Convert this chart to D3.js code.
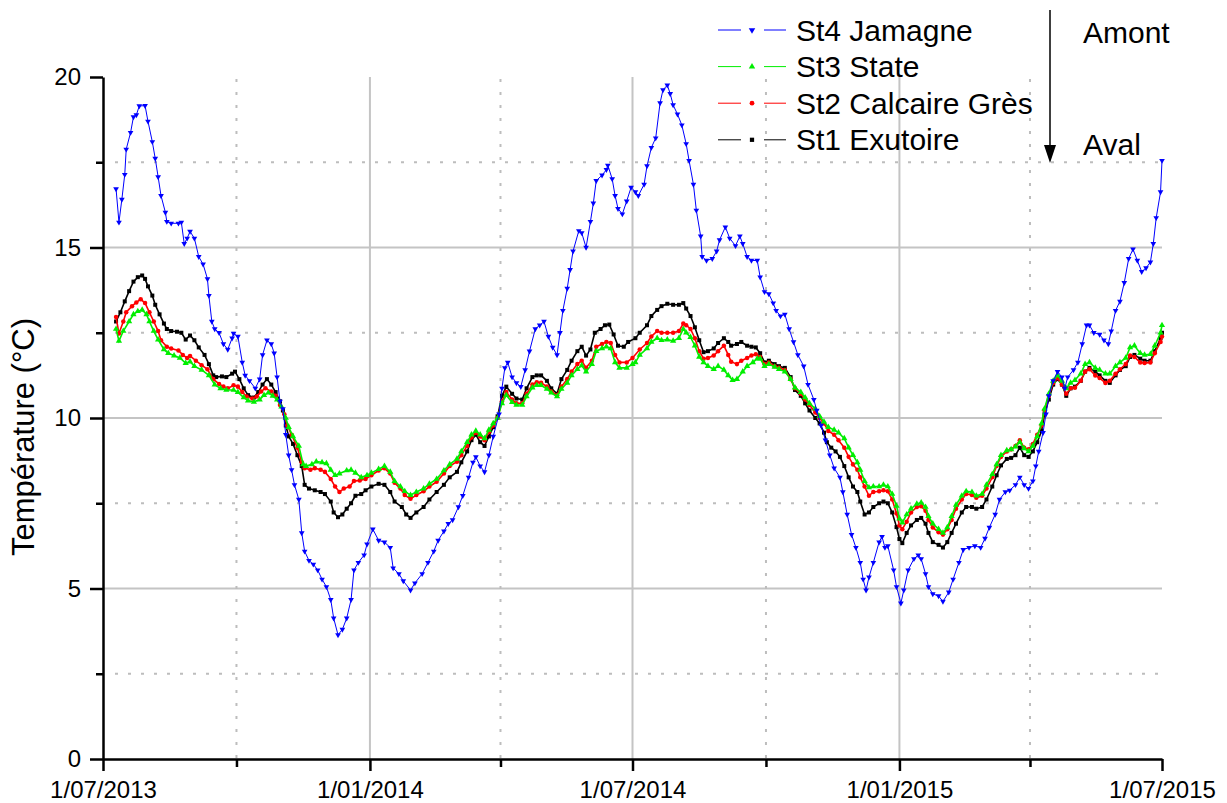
<!DOCTYPE html>
<html>
<head>
<meta charset="utf-8">
<script src="https://cdnjs.cloudflare.com/ajax/libs/d3/7.8.5/d3.min.js"></script>
<style>
body { margin: 0; background: #fff; }
svg { font-family: "Liberation Sans", Arial, sans-serif; }
</style>
</head>
<body>
<svg></svg>
<script>
// dates / ticks
let startDate = new Date(2013, 6, 1);
let majorDates = [new Date(2013,6,1), new Date(2014,0,1), new Date(2014,6,1), new Date(2015,0,1), new Date(2015,6,1)];
let minorDates = [new Date(2013,9,1), new Date(2014,3,1), new Date(2014,9,1), new Date(2015,3,1)];
let majorTemps = [0, 5, 10, 15, 20];
let minorTemps = [2.5, 7.5, 12.5, 17.5];
let stationNames = ["St4 Jamagne", "St3 State", "St2 Calcaire Grès", "St1 Exutoire"];

// [days since 1/07/2013, temperature °C]
let st4 = [[9,16.72],[11,15.74],[13,16.41],[15,17.14],[16,17.88],[19,18.37],[21,18.83],[23,18.89],[25,19.15],[29,19.16],[31,18.70],[34,18.10],[36,17.61],[38,17.07],[40,16.52],[43,16.03],[44,15.76],[47,15.71],[52,15.71],[54,15.74],[56,15.11],[58,15.27],[60,15.47],[63,15.27],[66,14.73],[69,14.51],[72,14.08],[73,13.59],[75,12.83],[77,12.61],[80,12.50],[83,12.17],[86,12.01],[89,12.34],[90,12.48],[93,12.39],[96,11.63],[98,11.25],[101,11.09],[105,10.87],[108,11.14],[110,11.85],[113,12.28],[116,12.17],[118,11.90],[120,11.20],[122,10.49],[124,10.27],[126,9.51],[128,8.91],[130,8.48],[132,8.04],[135,7.61],[137,6.63],[139,6.09],[142,5.82],[145,5.71],[148,5.54],[151,5.27],[154,5.05],[157,4.67],[159,4.13],[162,3.64],[165,3.80],[168,4.13],[171,4.67],[173,5.54],[176,5.76],[180,5.98],[182,6.30],[186,6.74],[190,6.41],[194,6.36],[198,6.20],[200,5.60],[204,5.43],[207,5.22],[212,4.95],[215,5.16],[220,5.43],[224,5.76],[228,6.09],[231,6.41],[235,6.68],[238,6.90],[241,7.01],[245,7.39],[248,7.72],[252,8.26],[255,8.70],[257,8.86],[260,8.59],[263,8.42],[266,8.91],[269,9.46],[273,10.11],[275,10.87],[277,11.47],[279,11.63],[282,11.20],[285,11.03],[288,10.92],[291,11.41],[294,11.96],[298,12.61],[301,12.72],[304,12.83],[307,12.39],[310,12.07],[313,11.85],[315,12.50],[317,13.15],[320,13.80],[322,14.35],[324,14.89],[328,15.49],[330,15.43],[333,15.00],[336,15.76],[338,16.30],[340,16.96],[344,17.12],[347,17.28],[348,17.41],[351,17.01],[353,16.52],[355,16.14],[358,15.98],[361,16.36],[364,16.76],[367,16.63],[369,16.52],[373,16.85],[375,17.39],[378,17.93],[381,18.21],[384,19.24],[386,19.62],[389,19.76],[391,19.51],[393,19.18],[396,18.91],[399,18.59],[402,18.04],[404,17.55],[407,16.85],[409,16.09],[412,15.33],[413,14.73],[416,14.62],[420,14.67],[423,14.89],[425,15.22],[429,15.60],[432,15.27],[436,15.05],[439,15.33],[441,15.11],[444,14.73],[447,14.62],[451,14.62],[453,14.13],[456,13.70],[459,13.64],[462,13.37],[464,13.15],[467,12.99],[470,13.04],[473,12.61],[476,12.23],[479,11.85],[483,11.52],[486,10.98],[490,10.54],[492,10.22],[495,9.78],[498,9.35],[501,8.91],[504,8.53],[508,8.26],[510,7.83],[513,7.17],[516,6.58],[519,6.20],[522,5.76],[524,5.27],[526,4.95],[528,5.33],[531,5.76],[535,6.36],[537,6.52],[539,6.20],[541,6.25],[545,5.54],[547,5.05],[550,4.57],[552,4.95],[555,5.54],[559,5.87],[562,5.98],[564,5.87],[567,5.43],[569,5.05],[572,4.84],[576,4.78],[579,4.62],[583,4.89],[586,5.27],[590,5.76],[593,6.14],[597,6.20],[601,6.25],[605,6.20],[608,6.47],[611,6.79],[615,7.17],[618,7.61],[622,7.83],[625,7.88],[629,8.04],[632,8.26],[635,8.04],[638,7.93],[641,8.15],[643,8.59],[645,9.02],[648,9.57],[650,10.11],[652,10.65],[655,11.09],[658,11.36],[661,11.20],[663,10.87],[665,11.20],[669,11.41],[672,11.63],[675,12.17],[678,12.72],[680,12.72],[683,12.50],[687,12.45],[690,12.28],[693,12.17],[695,12.55],[698,13.15],[701,13.42],[704,13.97],[707,14.67],[710,14.95],[713,14.62],[716,14.29],[719,14.40],[722,14.57],[724,15.11],[726,15.87],[729,16.63],[730,17.55]];

let st3 = [[9,12.61],[11,12.26],[14,12.55],[18,12.83],[21,13.04],[24,13.13],[27,13.17],[30,13.04],[32,12.83],[35,12.55],[38,12.30],[42,12.01],[45,11.90],[49,11.83],[53,11.76],[57,11.61],[60,11.65],[63,11.52],[68,11.41],[73,11.25],[77,10.98],[81,10.87],[85,10.82],[90,10.82],[93,10.76],[97,10.60],[100,10.51],[104,10.47],[108,10.54],[111,10.67],[114,10.74],[117,10.65],[120,10.54],[123,10.33],[126,10.00],[128,9.73],[131,9.46],[135,9.18],[138,8.64],[140,8.59],[144,8.64],[147,8.72],[151,8.70],[154,8.67],[157,8.48],[160,8.32],[163,8.37],[168,8.46],[171,8.48],[174,8.39],[178,8.26],[182,8.32],[185,8.39],[190,8.50],[194,8.59],[198,8.42],[201,8.15],[205,7.99],[208,7.85],[212,7.74],[216,7.83],[221,7.93],[225,8.07],[230,8.21],[235,8.46],[239,8.64],[244,8.80],[247,9.02],[251,9.29],[254,9.51],[257,9.62],[260,9.51],[263,9.40],[266,9.65],[269,9.84],[272,10.00],[275,10.43],[278,10.67],[282,10.46],[285,10.38],[289,10.38],[292,10.63],[296,10.89],[299,10.96],[302,10.96],[306,10.85],[309,10.74],[313,10.63],[316,10.85],[320,11.03],[323,11.25],[327,11.43],[330,11.54],[333,11.36],[337,11.58],[340,11.96],[344,12.04],[347,12.09],[350,12.04],[353,11.63],[356,11.47],[361,11.47],[365,11.58],[367,11.63],[370,11.85],[375,12.04],[378,12.23],[382,12.34],[385,12.28],[389,12.30],[393,12.26],[397,12.34],[400,12.61],[402,12.50],[405,12.37],[408,12.12],[411,11.79],[414,11.63],[417,11.52],[421,11.43],[424,11.52],[428,11.41],[431,11.25],[434,11.11],[437,11.14],[441,11.36],[444,11.52],[448,11.63],[451,11.74],[453,11.74],[456,11.52],[459,11.58],[463,11.50],[466,11.43],[470,11.36],[474,11.14],[477,10.89],[481,10.76],[484,10.60],[487,10.43],[491,10.27],[494,10.05],[497,9.89],[500,9.73],[504,9.65],[507,9.57],[511,9.40],[514,9.13],[517,8.91],[520,8.70],[522,8.48],[525,8.15],[528,7.96],[531,7.99],[535,7.99],[538,8.04],[541,7.99],[544,7.77],[547,7.42],[549,7.05],[551,6.93],[554,7.17],[557,7.34],[561,7.48],[564,7.52],[567,7.39],[569,7.12],[572,6.90],[576,6.74],[579,6.63],[582,6.79],[585,7.12],[588,7.45],[592,7.72],[595,7.85],[599,7.83],[602,7.72],[606,7.77],[609,8.04],[613,8.35],[616,8.64],[619,8.91],[623,9.05],[626,9.08],[629,9.16],[632,9.29],[635,9.11],[638,9.02],[641,9.18],[644,9.46],[647,9.84],[649,10.27],[652,10.71],[655,11.09],[658,11.25],[661,11.09],[664,10.87],[667,11.03],[670,11.11],[674,11.30],[677,11.58],[680,11.63],[684,11.47],[687,11.41],[691,11.30],[694,11.30],[698,11.52],[701,11.63],[705,11.76],[708,12.07],[711,12.12],[715,11.90],[718,11.85],[722,11.87],[725,12.12],[729,12.50],[730,12.72]];

let st2 = [[9,12.96],[11,12.48],[14,12.83],[16,13.10],[20,13.28],[23,13.39],[26,13.48],[29,13.37],[32,13.10],[35,12.83],[38,12.55],[40,12.28],[44,12.09],[47,12.04],[52,11.98],[55,11.85],[58,11.76],[60,11.82],[64,11.68],[68,11.55],[72,11.43],[76,11.14],[80,11.00],[83,10.92],[86,10.87],[90,10.96],[93,10.92],[96,10.76],[99,10.63],[103,10.57],[106,10.63],[109,10.78],[112,10.87],[116,10.78],[119,10.65],[122,10.38],[125,10.11],[127,9.78],[130,9.51],[134,9.13],[137,8.70],[139,8.53],[143,8.48],[146,8.53],[150,8.48],[153,8.42],[157,8.21],[160,7.99],[163,7.83],[166,7.93],[170,7.99],[173,8.15],[177,8.17],[181,8.21],[185,8.32],[190,8.46],[194,8.53],[198,8.37],[201,8.10],[205,7.93],[208,7.74],[212,7.63],[216,7.74],[221,7.85],[225,7.99],[230,8.13],[235,8.37],[239,8.59],[244,8.72],[247,8.91],[251,9.18],[254,9.43],[257,9.57],[260,9.46],[263,9.35],[266,9.59],[269,9.78],[272,10.00],[275,10.49],[278,10.76],[282,10.54],[285,10.43],[289,10.43],[292,10.71],[296,10.98],[299,11.05],[302,11.03],[306,10.92],[309,10.78],[313,10.67],[316,10.92],[320,11.14],[323,11.36],[327,11.58],[330,11.68],[333,11.47],[337,11.68],[340,12.09],[344,12.17],[347,12.23],[350,12.20],[353,11.85],[356,11.63],[361,11.63],[365,11.76],[370,12.01],[375,12.20],[378,12.39],[382,12.55],[385,12.50],[389,12.50],[393,12.50],[397,12.55],[400,12.77],[402,12.72],[405,12.61],[408,12.34],[411,11.96],[414,11.74],[417,11.76],[421,11.83],[424,11.96],[428,12.12],[431,11.85],[433,11.65],[437,11.58],[440,11.68],[444,11.76],[447,11.83],[450,11.87],[453,11.79],[456,11.58],[459,11.63],[463,11.52],[466,11.47],[470,11.41],[474,11.14],[477,10.87],[481,10.71],[484,10.54],[487,10.38],[491,10.16],[494,10.00],[497,9.84],[500,9.62],[504,9.51],[507,9.35],[511,9.13],[514,8.86],[517,8.64],[520,8.48],[522,8.26],[525,7.99],[528,7.72],[531,7.83],[535,7.85],[538,7.88],[541,7.85],[544,7.61],[547,7.20],[549,6.85],[551,6.74],[554,6.96],[557,7.23],[561,7.39],[564,7.41],[567,7.28],[569,7.01],[572,6.79],[576,6.65],[579,6.58],[582,6.74],[585,7.01],[588,7.34],[592,7.61],[595,7.77],[599,7.74],[602,7.66],[606,7.72],[609,7.93],[613,8.26],[616,8.59],[619,8.86],[623,9.02],[626,9.08],[629,9.18],[632,9.35],[635,9.13],[638,9.08],[641,9.24],[644,9.51],[647,9.78],[649,10.22],[652,10.65],[655,11.03],[658,11.17],[661,10.98],[664,10.71],[667,10.87],[670,10.89],[674,11.09],[677,11.36],[680,11.43],[684,11.25],[687,11.17],[691,11.03],[694,11.09],[698,11.30],[701,11.43],[705,11.58],[708,11.83],[711,11.79],[715,11.63],[718,11.61],[722,11.63],[725,11.90],[729,12.23],[730,12.39]];

let st1 = [[9,12.83],[12,13.10],[15,13.42],[18,13.72],[21,14.00],[24,14.13],[27,14.18],[29,14.08],[31,13.86],[34,13.59],[36,13.32],[39,13.04],[42,12.77],[44,12.61],[47,12.55],[51,12.53],[54,12.50],[57,12.30],[60,12.42],[63,12.28],[66,12.07],[70,11.85],[73,11.58],[76,11.25],[78,11.20],[82,11.22],[85,11.20],[89,11.30],[91,11.36],[94,11.14],[97,10.87],[100,10.67],[104,10.60],[107,10.76],[110,10.98],[113,11.14],[116,10.98],[119,10.76],[122,10.49],[124,10.22],[126,9.78],[128,9.46],[131,9.24],[134,8.91],[137,8.59],[139,8.04],[142,7.93],[146,7.88],[150,7.83],[153,7.77],[157,7.55],[159,7.23],[162,7.09],[165,7.17],[168,7.34],[171,7.50],[174,7.72],[178,7.77],[181,7.88],[185,7.99],[190,8.07],[194,8.04],[198,7.83],[201,7.55],[206,7.39],[209,7.17],[212,7.07],[216,7.23],[221,7.39],[225,7.61],[230,7.83],[235,8.04],[239,8.26],[244,8.42],[247,8.70],[251,9.02],[254,9.35],[257,9.51],[260,9.29],[263,9.18],[266,9.46],[269,9.73],[272,10.05],[275,10.65],[278,10.92],[282,10.71],[285,10.57],[289,10.54],[292,10.87],[296,11.20],[299,11.25],[302,11.25],[306,11.09],[309,10.87],[313,10.71],[316,11.14],[320,11.41],[323,11.68],[327,11.96],[330,12.09],[333,11.83],[336,12.01],[339,12.50],[343,12.61],[346,12.72],[349,12.74],[352,12.45],[355,12.12],[359,12.09],[362,12.23],[367,12.34],[370,12.50],[375,12.72],[378,12.99],[382,13.17],[385,13.28],[389,13.35],[393,13.32],[397,13.32],[400,13.37],[402,13.21],[405,12.99],[408,12.66],[411,12.28],[414,11.93],[417,11.96],[421,12.04],[424,12.20],[428,12.34],[431,12.23],[433,12.12],[437,12.17],[440,12.23],[444,12.12],[447,12.09],[450,12.07],[453,11.90],[456,11.63],[459,11.68],[463,11.58],[466,11.52],[470,11.47],[474,11.20],[477,10.82],[481,10.65],[484,10.43],[487,10.22],[491,10.00],[494,9.84],[497,9.57],[499,9.29],[502,9.13],[505,9.02],[508,8.86],[511,8.59],[514,8.26],[517,7.99],[520,7.83],[522,7.55],[525,7.17],[528,7.23],[531,7.39],[535,7.50],[538,7.55],[541,7.50],[544,7.23],[547,6.80],[549,6.45],[551,6.33],[554,6.63],[557,6.85],[561,7.01],[564,7.07],[567,6.90],[569,6.63],[572,6.36],[576,6.28],[579,6.20],[582,6.36],[585,6.63],[588,6.90],[592,7.23],[595,7.39],[599,7.39],[602,7.34],[606,7.39],[609,7.61],[613,7.99],[616,8.32],[619,8.61],[623,8.80],[626,8.83],[629,8.91],[632,9.13],[635,8.91],[638,8.86],[641,9.02],[644,9.29],[647,9.62],[649,10.11],[652,10.54],[655,10.98],[658,11.14],[661,10.98],[664,10.65],[667,10.87],[670,10.92],[674,11.09],[677,11.36],[680,11.47],[684,11.36],[687,11.25],[691,11.09],[694,11.03],[698,11.25],[701,11.41],[705,11.52],[708,11.79],[711,11.85],[715,11.74],[718,11.68],[722,11.68],[725,11.96],[729,12.34],[730,12.50]];

var svgWidth = 1227, svgHeight = 803;
var plotLeft = 103, plotRight = 1162, plotTop = 77, plotBottom = 759;

var svg = d3.select('svg')
            .attr("width", svgWidth)
            .attr("height", svgHeight);

var x = d3.scaleTime()
          .domain([majorDates[0], majorDates[majorDates.length - 1]])
          .range([plotLeft, plotRight]);
var y = d3.scaleLinear()
          .domain([0, 20])
          .range([plotBottom, plotTop]);

let toDate = d => new Date(startDate.getTime() + d * 864e5);

// grid
var grid = svg.append("g");
grid.selectAll(".hmajor")
    .data(majorTemps.filter(t => t > 0 && t < 20))
    .enter().append("line")
    .attr("x1", plotLeft).attr("x2", plotRight)
    .attr("y1", d => y(d)).attr("y2", d => y(d))
    .attr("stroke", "#c4c4c4").attr("stroke-width", 2);
grid.selectAll(".vmajor")
    .data(majorDates.slice(1, -1))
    .enter().append("line")
    .attr("x1", d => x(d)).attr("x2", d => x(d))
    .attr("y1", plotTop).attr("y2", plotBottom)
    .attr("stroke", "#c4c4c4").attr("stroke-width", 2);
grid.selectAll(".hminor")
    .data(minorTemps)
    .enter().append("line")
    .attr("x1", plotLeft + 12).attr("x2", plotRight)
    .attr("y1", d => y(d)).attr("y2", d => y(d))
    .attr("stroke", "#bdbdbd").attr("stroke-width", 2)
    .attr("stroke-dasharray", "3,10");
grid.selectAll(".vminor")
    .data(minorDates)
    .enter().append("line")
    .attr("x1", d => x(d)).attr("x2", d => x(d))
    .attr("y1", plotTop + 2).attr("y2", plotBottom)
    .attr("stroke", "#bdbdbd").attr("stroke-width", 2)
    .attr("stroke-dasharray", "3,10");

// series (bottom to top)
let series = [
  {name: stationNames[3], data: st1, color: "#000000", shape: d3.symbolSquare, size: 16, rot: 0, lw: 1.6},
  {name: stationNames[2], data: st2, color: "#ff0000", shape: d3.symbolCircle, size: 16, rot: 0, lw: 1.6},
  {name: stationNames[1], data: st3, color: "#00ee00", shape: d3.symbolTriangle, size: 17, rot: 0, lw: 1.6},
  {name: stationNames[0], data: st4, color: "#0000ff", shape: d3.symbolTriangle, size: 14, rot: 180, lw: 1}
];

var line = d3.line()
             .x(d => x(toDate(d[0])))
             .y(d => y(d[1]));

series.forEach(s => {
  let g = svg.append("g");
  g.append("path")
   .attr("d", line(s.data))
   .attr("fill", "none")
   .attr("stroke", s.color)
   .attr("stroke-width", s.lw);
  g.selectAll("path.pt")
   .data(s.data)
   .enter()
   .append("path")
   .attr("class", "pt")
   .attr("d", d3.symbol().type(s.shape).size(s.size))
   .attr("fill", s.color)
   .attr("transform", d => `translate(${x(toDate(d[0]))},${y(d[1])}) rotate(${s.rot})`);
});

// axes
var xAxis = svg.append("g")
               .attr("transform", `translate(0,${plotBottom})`)
               .call(d3.axisBottom(x).tickValues(majorDates).tickSize(12).tickSizeOuter(0)
                       .tickPadding(10).tickFormat(d3.timeFormat("%-d/%m/%Y")));
var xMinor = svg.append("g")
               .attr("transform", `translate(0,${plotBottom})`)
               .call(d3.axisBottom(x).tickValues(minorDates).tickSize(8).tickFormat(""));
var yAxis = svg.append("g")
               .attr("transform", `translate(${plotLeft},0)`)
               .call(d3.axisLeft(y).tickValues(majorTemps).tickSize(13).tickSizeOuter(0).tickPadding(9));
var yMinor = svg.append("g")
               .attr("transform", `translate(${plotLeft},0)`)
               .call(d3.axisLeft(y).tickValues(minorTemps).tickSize(7).tickFormat(""));

xMinor.select(".domain").remove();
yMinor.select(".domain").remove();
[xAxis, xMinor, yAxis, yMinor].forEach(a => {
  a.attr("font-size", 24).attr("font-family", "Liberation Sans, Arial, sans-serif");
  a.selectAll(".domain").attr("stroke", "#000").attr("stroke-width", 2.5);
  a.selectAll(".tick line").attr("stroke", "#000").attr("stroke-width", 2.5);
  a.selectAll(".tick text").attr("fill", "#000");
});

// y title
svg.append("text")
   .attr("transform", "translate(34,437) rotate(-90)")
   .attr("text-anchor", "middle")
   .attr("font-size", 31)
   .text("Température (°C)");

// legend
let legendRows = series.slice().reverse();
var legend = svg.selectAll(".legend")
                .data(legendRows)
                .enter()
                .append("g")
                .attr("transform", (d, i) => `translate(0,${30 + i * 36.6})`);
legend.append("line")
      .attr("x1", 718).attr("x2", 741).attr("y1", 0).attr("y2", 0)
      .attr("stroke", d => d.color).attr("stroke-width", 1);
legend.append("line")
      .attr("x1", 764).attr("x2", 786).attr("y1", 0).attr("y2", 0)
      .attr("stroke", d => d.color).attr("stroke-width", 1);
legend.append("path")
      .attr("d", d => d3.symbol().type(d.shape).size(18)())
      .attr("fill", d => d.color)
      .attr("transform", d => `translate(752,0) rotate(${d.rot})`);
legend.append("text")
      .attr("x", 796).attr("y", 10.5)
      .attr("font-size", 30)
      .text(d => d.name);

// Amont -> Aval arrow
svg.append("line")
   .attr("x1", 1050).attr("x2", 1050).attr("y1", 10).attr("y2", 148)
   .attr("stroke", "#000").attr("stroke-width", 1.5);
svg.append("path")
   .attr("d", "M1044,145 L1056,145 L1050,163 Z")
   .attr("fill", "#000");
svg.append("text").attr("x", 1083).attr("y", 43).attr("font-size", 30).text("Amont");
svg.append("text").attr("x", 1083).attr("y", 155).attr("font-size", 30).text("Aval");
</script>
</body>
</html>
